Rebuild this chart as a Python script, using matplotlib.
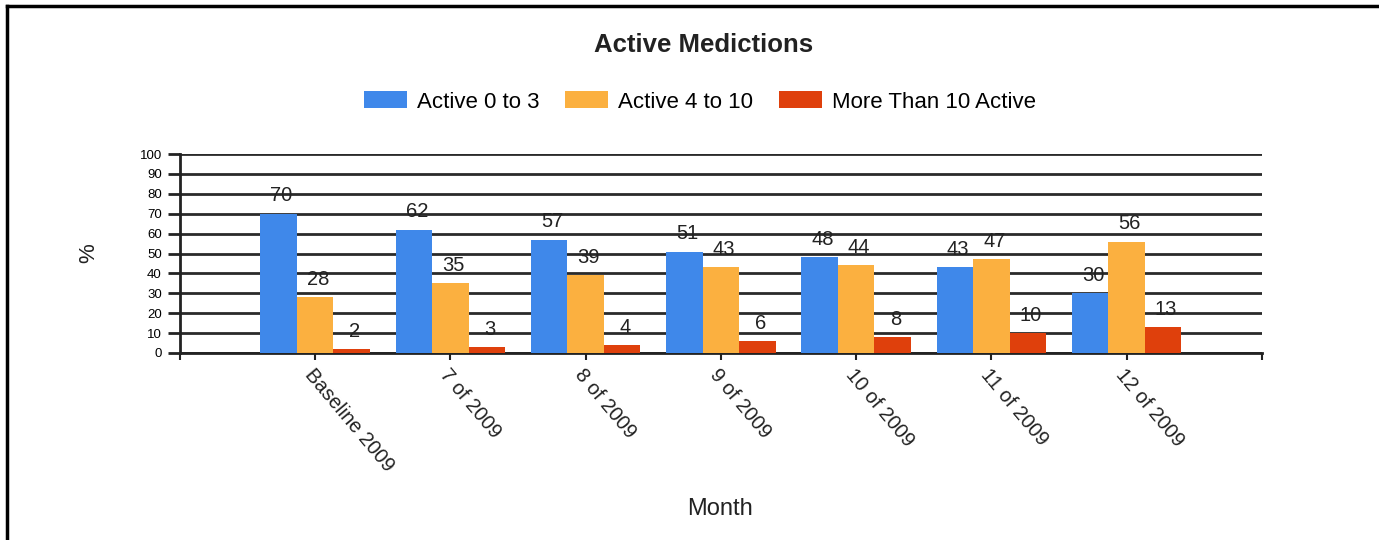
import numpy as np
import matplotlib
matplotlib.use("Agg")
import matplotlib.pyplot as plt
from matplotlib.lines import Line2D

# -----------------------------
# Data
# -----------------------------
months = ["Baseline 2009", "7 of 2009", "8 of 2009", "9 of 2009",
          "10 of 2009", "11 of 2009", "12 of 2009"]
active_0_3 = [70, 62, 57, 51, 48, 43, 30]
active_4_10 = [28, 35, 39, 43, 44, 47, 56]
more_than_10 = [2, 3, 4, 6, 8, 10, 13]

series = [
    ("Active 0 to 3", active_0_3, "#3F88EA"),
    ("Active 4 to 10", active_4_10, "#FBB040"),
    ("More Than 10 Active", more_than_10, "#DF400C"),
]

plt.rcParams["font.family"] = ["Liberation Sans", "DejaVu Sans"]

fig = plt.figure(figsize=(13.79, 5.40), dpi=100)
ax = fig.add_axes([0.1305, 0.3463, 0.7846, 0.3685])

x = np.arange(len(months))
w = 0.27
for i, (name, vals, col) in enumerate(series):
    pos = x + (i - 1) * w
    ax.bar(pos, vals, width=w, color=col, label=name, zorder=3)
    for px, v in zip(pos, vals):
        ax.annotate(str(v), (px, v), xytext=(2, 6), textcoords="offset points",
                    ha="center", va="bottom", fontsize=14.5, color="#222222")

# -----------------------------
# Axes styling
# -----------------------------
ax.set_xlim(-1, 7)
ax.set_ylim(0, 100)
ax.set_yticks(range(0, 101, 10))
ax.tick_params(axis="y", length=9, width=2, color="#222222", labelsize=9.5, pad=4)
ax.yaxis.grid(True, color="#2a2a2a", linewidth=2, zorder=0)
ax.set_axisbelow(True)

ax.set_xticks(range(-1, 8))
ax.set_xticklabels([""] + months + [""], rotation=-50, ha="left", va="top",
                   rotation_mode="anchor", fontsize=14.5, color="#222222")
ax.tick_params(axis="x", length=5, width=1.5, color="#222222", pad=4)

for s in ["top", "right"]:
    ax.spines[s].set_visible(False)
ax.spines["left"].set_linewidth(2)
ax.spines["bottom"].set_linewidth(2)
ax.spines["left"].set_color("#222222")
ax.spines["bottom"].set_color("#222222")

# -----------------------------
# Titles, legend, labels
# -----------------------------
fig.text(0.5105, 0.916, "Active Medictions", ha="center", va="center",
         fontsize=18.5, fontweight="bold", color="#222222")
fig.legend(loc="center", bbox_to_anchor=(0.5075, 0.811), ncol=3, frameon=False,
           fontsize=16, handlelength=1.95, handleheight=0.8, columnspacing=1.15,
           handletextpad=0.45)
fig.text(0.522, 0.058, "Month", ha="center", va="center", fontsize=17,
         color="#222222")
fig.text(0.0640, 0.5315, "%", ha="center", va="center", rotation=90,
         fontsize=16, color="#222222")

# frame lines at top and left
fig.add_artist(Line2D([0.0054, 1.0], [0.988, 0.988], color="black", linewidth=2.5,
                      transform=fig.transFigure))
fig.add_artist(Line2D([0.0054, 0.0054], [0.0, 0.988], color="black", linewidth=2.5,
                      transform=fig.transFigure))

fig.savefig("out.png", dpi=100)
